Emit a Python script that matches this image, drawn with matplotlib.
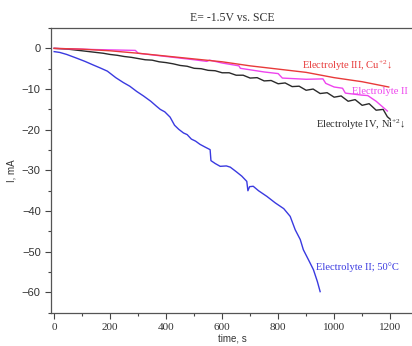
import numpy as np
import matplotlib
matplotlib.use("Agg")
import matplotlib.pyplot as plt
from matplotlib.ticker import MultipleLocator

plt.rcParams["mathtext.fontset"] = "custom"
plt.rcParams["mathtext.rm"] = "Liberation Serif"
plt.rcParams["mathtext.it"] = "Liberation Serif"

# chronoamperometry curves, E = -1.5 V vs SCE
t_ni = [0, 25, 50, 75, 100, 125, 150, 175, 200, 225, 250, 275, 300, 325, 350, 375,
        400, 425, 450, 475, 500, 525, 550, 575, 600, 625, 650, 675, 700, 725, 750,
        775, 800, 825, 850, 875, 900, 925, 950, 975, 1000, 1025, 1050, 1075, 1100,
        1125, 1150, 1175, 1190, 1200]
i_ni = [0.0, -0.1, -0.2, -0.4, -0.6, -0.8, -1.0, -1.2, -1.5, -1.7, -2.0, -2.2, -2.5,
        -2.8, -2.9, -3.3, -3.5, -3.8, -4.2, -4.4, -4.9, -5.0, -5.4, -5.5, -6.0, -6.0,
        -6.6, -6.6, -7.3, -7.2, -8.0, -7.9, -8.7, -8.5, -9.4, -9.3, -10.3, -10.0,
        -11.1, -10.9, -12.0, -11.7, -13.0, -12.6, -14.0, -13.6, -15.2, -15.0, -16.8,
        -17.4]

t_cu = [0, 100, 200, 300, 400, 500, 600, 700, 800, 900, 1000, 1100, 1195]
i_cu = [0.0, -0.2, -0.6, -1.2, -1.9, -2.6, -3.3, -4.3, -5.1, -5.9, -7.2, -8.2, -9.5]

t_ii = [0, 150, 290, 300, 400, 500, 545, 555, 600, 660, 665, 750, 800, 815, 900,
        960, 970, 1000, 1030, 1040, 1100, 1120, 1150, 1190]
i_ii = [0.0, -0.3, -0.5, -1.2, -2.0, -2.8, -3.2, -2.9, -3.6, -4.3, -4.9, -5.8, -6.2,
        -7.3, -7.6, -7.5, -8.6, -9.5, -9.8, -11.0, -11.5, -11.6, -13.0, -15.4]

t_50 = [0, 20, 45, 80, 110, 140, 164, 190, 220, 247, 270, 295, 319, 345, 365, 379,
        395, 414, 430, 445, 462, 475, 490, 505, 521, 540, 557, 560, 575, 593, 615,
        629, 650, 670, 688, 692, 698, 711, 730, 760, 790, 820, 843, 861, 879, 890,
        910, 926, 940, 950]
i_50 = [-0.8, -1.0, -1.5, -2.4, -3.2, -4.1, -4.8, -5.6, -7.2, -8.4, -9.3, -10.6,
        -11.7, -13.0, -14.2, -15.0, -15.6, -16.9, -18.9, -19.9, -20.8, -21.2, -22.3,
        -22.8, -23.6, -24.3, -24.9, -27.6, -28.3, -29.0, -28.9, -29.2, -30.3, -31.4,
        -32.7, -35.0, -34.0, -33.9, -35.0, -36.4, -38.0, -39.4, -41.3, -44.6, -47.0,
        -49.5, -52.2, -54.4, -57.3, -59.8]

fig = plt.figure(figsize=(4.12, 3.46), dpi=100)
ax = fig.add_axes([0.124, 0.096, 0.88, 0.823])

ax.plot(t_ni, i_ni, color="#2a2a2a", lw=1.0)
ax.plot(t_ii, i_ii, color="#ee44ee", lw=1.0)
ax.plot(t_cu, i_cu, color="#e83a3a", lw=1.0)
ax.plot(t_50, i_50, color="#3a3ae0", lw=1.0)

ax.set_xlim(-11, 1284)
ax.set_ylim(-65, 5)
ax.xaxis.set_major_locator(MultipleLocator(200))
ax.xaxis.set_minor_locator(MultipleLocator(100))
ax.yaxis.set_major_locator(MultipleLocator(10))
ax.yaxis.set_minor_locator(MultipleLocator(5))
ax.tick_params(which="major", length=4, width=0.8, color="#444")
ax.tick_params(which="minor", length=2, width=0.8, color="#444")
for s in ax.spines.values():
    s.set_color("#555")
    s.set_linewidth(0.9)

for lab in ax.get_xticklabels():
    lab.set_family("Liberation Serif")
    lab.set_fontsize(8)
    lab.set_color("#333")
for lab in ax.get_yticklabels():
    lab.set_family("Liberation Sans")
    lab.set_fontsize(8)
    lab.set_color("#333")

ax.set_xlabel("time, s", family="Liberation Sans", fontsize=7, color="#333", labelpad=1)
ax.set_ylabel("I, mA", family="Liberation Sans", fontsize=7, color="#333", labelpad=4)
ax.set_title("E= -1.5V vs. SCE", family="Liberation Serif", fontsize=8.5,
             color="#333", pad=5)

ser = dict(family=["Liberation Serif", "DejaVu Sans"], fontsize=7.6, va="center")
ax.text(886, -4.2, r"Electrolyte III, Cu$^{\mathrm{+2}}$↓", color="#e83a3a", **ser)
ax.text(1064, -10.5, "Electrolyte II", color="#ee44ee", **ser)
ax.text(936, -18.7, r"Electrolyte IV, Ni$^{\mathrm{+2}}$↓", color="#2a2a2a", **ser)
ax.text(936, -53.7, "Electrolyte II; 50°C", color="#3a3ae0", **ser)

fig.savefig("out.png", dpi=100)
